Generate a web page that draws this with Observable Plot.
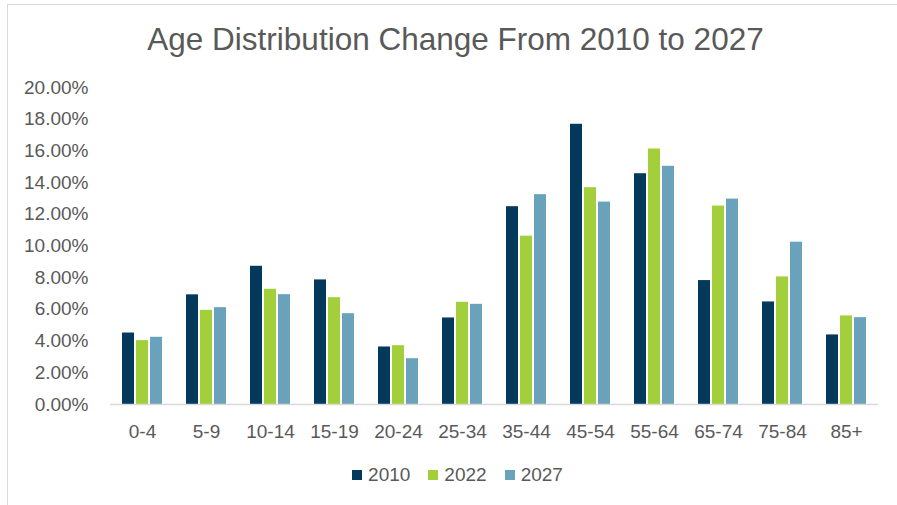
<!DOCTYPE html>
<html>
<head>
<meta charset="utf-8">
<script src="https://cdn.jsdelivr.net/npm/d3@7"></script>
<script src="https://cdn.jsdelivr.net/npm/@observablehq/plot@0.6"></script>
<style>
  body { margin: 0; background: #fff; }
  #frame { position: relative; width: 897px; height: 505px; overflow: hidden; background: #fff; font-family: "Liberation Sans", Arial, sans-serif; color: #595959; }
  #topline { position: absolute; left: 7px; right: 0; top: 4px; height: 1px; background: #d9d9d9; }
  #leftline { position: absolute; left: 7px; top: 4px; bottom: 0; width: 1px; background: #d9d9d9; }
  #title { position: absolute; left: 14px; width: 883px; top: 21px; text-align: center; font-size: 31.5px; color: #595959; }
  #chart { position: absolute; left: 0; top: 70px; }
  #legend { position: absolute; left: 0; width: 897px; top: 464px; display: flex; justify-content: center; gap: 18px; font-size: 19px; padding-left: 18px; box-sizing: border-box; }
  .item { display: flex; align-items: center; gap: 6px; }
  .sw { width: 10px; height: 10px; display: inline-block; }
</style>
</head>
<body>
<div id="frame">
  <div id="topline"></div>
  <div id="leftline"></div>
  <div id="title">Age Distribution Change From 2010 to 2027</div>
  <div id="chart"></div>
  <div id="legend"></div>
</div>
<script>
const ages = ["0-4","5-9","10-14","15-19","20-24","25-34","35-44","45-54","55-64","65-74","75-84","85+"];
const years = ["2010","2022","2027"];
const v2010 = [4.51, 6.92, 8.72, 7.86, 3.63, 5.46, 12.48, 17.68, 14.56, 7.82, 6.47, 4.39];
const v2022 = [4.03, 5.94, 7.27, 6.74, 3.71, 6.45, 10.62, 13.68, 16.12, 12.52, 8.05, 5.59];
const v2027 = [4.24, 6.11, 6.93, 5.73, 2.89, 6.32, 13.24, 12.77, 15.03, 12.96, 10.24, 5.48];
const colors = ["#033a5c", "#a3cf3a", "#69a3bb"];

const series = [v2010, v2022, v2027];
const data = [];
ages.forEach((a, i) => years.forEach((y, j) => data.push({age: a, year: y, value: series[j][i]})));

const chart = Plot.plot({
  width: 897,
  height: 390,
  marginTop: 17,
  marginBottom: 56,
  marginLeft: 108,
  marginRight: 17,
  style: {fontFamily: "'Liberation Sans', Arial, sans-serif", fontSize: "19px", color: "#595959", background: "transparent"},
  fx: {domain: ages, padding: 0, tickSize: 0, tickPadding: 20, label: null, axis: "bottom"},
  x: {domain: years, paddingInner: 0.12, paddingOuter: 0.84, axis: null},
  y: {domain: [0, 20], ticks: 10, tickFormat: d => d.toFixed(2) + "%", tickSize: 0, tickPadding: 22, label: null},
  color: {domain: years, range: colors},
  marks: [
    Plot.barY(data, {fx: "age", x: "year", y: "value", fill: "year"}),
    Plot.ruleY([0], {stroke: "#d9d9d9", strokeWidth: 1.5})
  ]
});
document.getElementById("chart").appendChild(chart);

const legend = document.getElementById("legend");
years.forEach((y, j) => {
  const it = document.createElement("div");
  it.className = "item";
  const sw = document.createElement("span");
  sw.className = "sw";
  sw.style.background = colors[j];
  const t = document.createElement("span");
  t.textContent = y;
  it.appendChild(sw); it.appendChild(t);
  legend.appendChild(it);
});
</script>
</body>
</html>
